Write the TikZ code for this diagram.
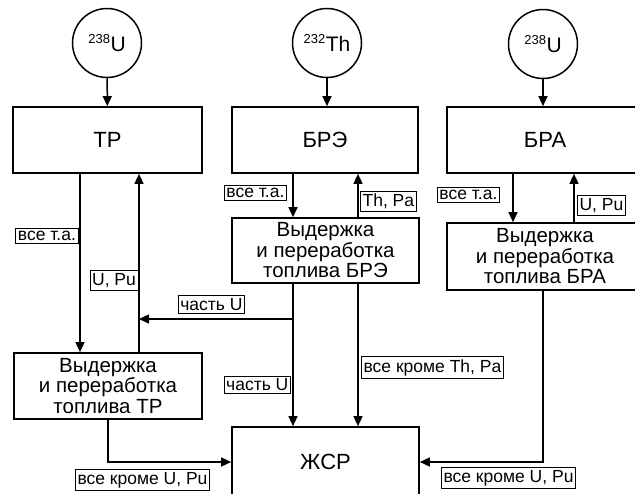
\documentclass[tikz,border=0pt]{standalone}
\usepackage{fontspec}
\setmainfont{Liberation Sans}
\usetikzlibrary{arrows.meta, positioning}

\begin{document}
\begin{tikzpicture}[>={Triangle[length=10pt, width=9pt]}, x=1pt, y=-1pt,
      box/.style={draw, line width=1.7pt, minimum height=66pt, align=center,
                  font=\fontsize{20.5}{20.5}\selectfont},
      src/.style={draw, circle, line width=1.5pt, minimum size=69pt, inner sep=0pt,
                  font=\fontsize{21}{22}\selectfont},
      lbl/.style={draw, line width=0.8pt, inner xsep=2.2pt, inner ysep=2.8pt, fill=white,
                  font=\fontsize{17.5}{18}\selectfont},
      arr/.style={->, line width=1.5pt}]
    \useasboundingbox (0,0) rectangle (635,493);
    \clip (0,0) rectangle (635,493);
    \node[src] (u1) at (107,43) {\textsuperscript{\fontsize{13}{14}\selectfont 238}U};
    \node[src] (th) at (327,43) {\textsuperscript{\fontsize{13}{14}\selectfont 232}Th};
    \node[src] (u2) at (543,44) {\textsuperscript{\fontsize{13}{14}\selectfont 238}U};
    \node[box, minimum width=189pt, font=\fontsize{22}{22}\selectfont] (tr)  at (107.5,140) {ТР};
    \node[box, minimum width=186pt, font=\fontsize{22}{22}\selectfont] (bre) at (325,140)   {БРЭ};
    \node[box, minimum width=196pt, font=\fontsize{22}{22}\selectfont] (bra) at (545,140)   {БРА};
    \node[box, minimum width=188pt] (trp)  at (108,386)   {Выдержка\\и переработка\\топлива ТР};
    \node[box, minimum width=187pt, minimum height=65pt] (brep) at (325.5,250.5) {Выдержка\\и переработка\\топлива БРЭ};
    \node[box, minimum width=196pt, minimum height=67pt] (brap) at (545,256.5) {Выдержка\\и переработка\\топлива БРА};
    \node[box, minimum width=187pt, minimum height=70pt, font=\fontsize{22}{22}\selectfont] (zsr) at (325.5,462) {ЖСР};
    \coordinate (split) at (293,319);
    \coordinate (join)  at (139,319);
    % arrows
    \draw[arr] (u1) -- (tr);
    \draw[arr] (th) -- ([xshift=2pt]bre.north);
    \draw[arr] (u2) -- ([xshift=-2pt]bra.north);
    \draw[arr] ([xshift=-27.5pt]tr.south) -- node[lbl, left=1.5pt, pos=0.35] {все т.а.} ([xshift=-28pt]trp.north);
    \draw[arr] ([xshift=31pt]trp.north) -- node[lbl, left=0.5pt, pos=0.4] {U, Pu} ([xshift=31.5pt]tr.south);
    \draw[arr] ([xshift=-32pt]bre.south) -- node[lbl, left=6pt, pos=0.44] {все т.а.} ([xshift=-32.5pt]brep.north);
    \draw[arr] ([xshift=32.5pt]brep.north) -- node[lbl, right=2pt, pos=0.36] {Th, Pa} ([xshift=33pt]bre.south);
    \draw[arr] ([xshift=-32pt]bra.south) -- node[lbl, left=13pt, pos=0.44] {все т.а.} ([xshift=-32pt]brap.north);
    \draw[arr] ([xshift=29pt]brap.north) -- node[lbl, right=3pt, pos=0.34] {U, Pu} ([xshift=29pt]bra.south);
    \draw[arr] ([xshift=-32.5pt]brep.south) -- node[lbl, left=2pt, pos=0.71] {часть U} ([xshift=-32.5pt]zsr.north);
    \draw[arr] ([xshift=32.5pt]brep.south) -- node[lbl, right=3pt, pos=0.59] {все кроме Th, Pa} ([xshift=32.5pt]zsr.north);
    \draw[arr] (split) -- node[lbl, above=5pt, pos=0.53] {часть U} (join);
    \draw[arr] (trp.south) |- node[lbl, below=7pt, pos=0.64] {все кроме U, Pu} (zsr.west);
    \draw[arr] ([xshift=-2pt]brap.south) |- node[lbl, below=5pt, pos=0.64] {все кроме U, Pu} (zsr.east);
  \end{tikzpicture}
\end{document}
